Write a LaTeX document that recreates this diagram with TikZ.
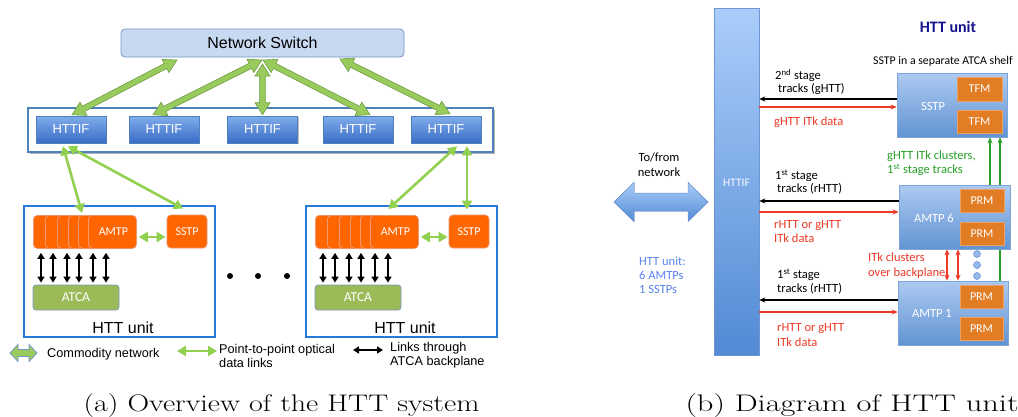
\documentclass[tikz,border=0pt]{standalone}
\usepackage{fontspec}
\newfontfamily\arialf{Liberation Sans}
\newfontfamily\calf{Carlito}
\usetikzlibrary{arrows.meta,calc,shadows}
\pgfdeclarelayer{shelflayer}
\pgfsetlayers{shelflayer,main}

% palette
\definecolor{swfill}{RGB}{198,217,240}
\definecolor{swdraw}{RGB}{120,150,200}
\definecolor{ifborder}{RGB}{79,129,189}
\definecolor{iftop}{RGB}{128,172,236}
\definecolor{ifbot}{RGB}{58,108,198}
\definecolor{comgreen}{RGB}{152,202,92}
\definecolor{comedge}{RGB}{112,158,70}
\definecolor{ptp}{RGB}{146,208,80}
\definecolor{unitblue}{RGB}{40,120,215}
\definecolor{amtporange}{RGB}{255,102,0}
\definecolor{amtpedge}{RGB}{238,150,110}
\definecolor{atcagreen}{RGB}{155,187,89}
\definecolor{atcaedge}{RGB}{130,150,190}
\definecolor{barTop}{RGB}{170,205,250}
\definecolor{barBot}{RGB}{82,138,212}
\definecolor{baredge}{RGB}{110,150,210}
\definecolor{shelfgreen}{RGB}{214,250,212}
\definecolor{shelfedge}{RGB}{140,180,150}
\definecolor{boardtop}{RGB}{172,202,240}
\definecolor{boardbot}{RGB}{98,148,212}
\definecolor{boardedge}{RGB}{125,165,215}
\definecolor{modorange}{RGB}{226,125,38}
\definecolor{modedge}{RGB}{235,160,100}
\definecolor{linkred}{RGB}{236,58,38}
\definecolor{linkgreen}{RGB}{40,160,40}
\definecolor{unitnavy}{RGB}{20,20,140}
\definecolor{noteblue}{RGB}{90,130,235}
\definecolor{dotfill}{RGB}{150,185,235}
\definecolor{dotedge}{RGB}{100,140,210}

\newcommand\sz[2]{\fontsize{#1}{#2}\selectfont}

% double-headed block arrow: style, from, to, shaft half width, head half width, head length
\newcommand\fatarrow[6]{%
  \filldraw[#1] let \p1=(#2), \p2=(#3),
      \n1={atan2(\y2-\y1,\x2-\x1)}, \n2={veclen(\x2-\x1,\y2-\y1)} in
    [shift={(\p1)}, rotate=\n1]
    (0pt,0pt) -- (#6pt,#5pt) -- (#6pt,#4pt) -- (\n2-#6pt,#4pt) -- (\n2-#6pt,#5pt)
    -- (\n2,0pt) -- (\n2-#6pt,-#5pt) -- (\n2-#6pt,-#4pt) -- (#6pt,-#4pt) -- (#6pt,-#5pt) -- cycle;}

\tikzset{
  switchbox/.style={rectangle, rounded corners=4pt, fill=swfill, draw=swdraw, line width=0.8pt,
    font=\arialf\sz{16}{19}, inner sep=0pt},
  ifrow/.style={rectangle, fill=white, draw=ifborder, line width=1.6pt,
    drop shadow={shadow xshift=1.5pt, shadow yshift=-1.5pt, fill=black, opacity=0.3}},
  ifbox/.style={rectangle, top color=iftop, bottom color=ifbot, draw=ifborder, line width=0.5pt,
    minimum width=70pt, minimum height=27pt, inner sep=0pt, text=white, font=\arialf\sz{13}{15},
    drop shadow={shadow xshift=1pt, shadow yshift=-1pt, fill=black, opacity=0.25}},
  fat/.style={fill=comgreen, draw=comedge, line width=0.6pt, line join=miter},
  fatkey/.style={fill=comgreen, draw=swdraw, line width=0.8pt},
  bigarrow/.style={top color=barTop, bottom color=barBot, draw=baredge, line width=0.5pt},
  ptpl/.style={draw=ptp, line width=2.6pt, {Triangle[length=9pt,width=10pt]}-{Triangle[length=9pt,width=10pt]}},
  bkl/.style={draw=black, line width=1.8pt, {Triangle[length=6pt,width=7pt]}-{Triangle[length=6pt,width=7pt]}},
  unitbox/.style={rectangle, fill=white, draw=unitblue, line width=1.8pt, inner sep=0pt},
  amtpbox/.style={rectangle, rounded corners=4pt, fill=amtporange, draw=amtpedge, line width=0.8pt,
    minimum width=48pt, minimum height=33pt, inner sep=0pt, text=white, font=\calf\sz{12}{14}},
  sstpbox/.style={amtpbox, minimum width=40pt},
  atcabox/.style={rectangle, rounded corners=3pt, fill=atcagreen, draw=atcaedge, line width=0.8pt,
    minimum width=86pt, minimum height=25pt, inner sep=0pt, text=white, font=\calf\sz{13.5}{16}},
  dot/.style={circle, fill=black, minimum size=6pt, inner sep=0pt},
  keytext/.style={font=\arialf\sz{12.7}{14}, anchor=base west, inner sep=0pt},
  bar/.style={rectangle, top color=barTop, bottom color=barBot, draw=baredge, line width=0.5pt,
    minimum width=45pt, minimum height=347pt, inner sep=0pt},
  board/.style={rectangle, top color=boardtop, bottom color=boardbot, draw=boardedge, line width=0.6pt,
    inner sep=0pt, drop shadow={shadow xshift=1pt, shadow yshift=-1pt, fill=black, opacity=0.2}},
  boardlbl/.style={font=\calf\sz{12.5}{15}, text=white, inner sep=0pt},
  mod/.style={rectangle, fill=modorange, draw=modedge, line width=0.6pt, minimum width=44pt,
    minimum height=23pt, inner sep=0pt, text=white, font=\calf\sz{12}{14}},
  note/.style={font=\calf\sz{12.5}{15}, anchor=base west, inner sep=0pt},
  blk/.style={draw=black, line width=1.1pt, -{Stealth[length=6pt,width=5pt]}},
  red/.style={draw=linkred, line width=1.1pt, -{Stealth[length=6pt,width=5pt]}},
  grn/.style={draw=linkgreen, line width=1.1pt, -{Stealth[length=6pt,width=5pt]}},
  redboth/.style={draw=linkred, line width=1.1pt, {Stealth[length=6pt,width=5pt]}-{Stealth[length=6pt,width=5pt]}},
  bluedot/.style={circle, fill=dotfill, draw=dotedge, line width=0.5pt, minimum size=7pt, inner sep=0pt},
  caption/.style={font=\sz{24}{28}, anchor=base, inner sep=0pt}
}

% one HTT unit of the overview: name prefix, horizontal offset
\newcommand\httunit[2]{%
\begin{scope}[xshift=#2pt]
  \node[unitbox, minimum width=191pt, minimum height=131pt] (#1box) at (119.5,271.5) {};
  \foreach \k/\bx in {1/33,2/45,3/57,4/68,5/78}
    \node[amtpbox, anchor=north west] (#1a\k) at (\bx,215) {};
  \node[amtpbox, anchor=north west] (#1a6) at (88,215) {\hspace*{2pt}AMTP};
  \node[sstpbox] (#1sstp) at (187,231.5) {SSTP};
  \node[atcabox] (#1atca) at (76,297.5) {ATCA};
  \draw[ptpl, line width=2.4pt] ([xshift=2pt]#1a6.east |- 0,237) -- ([xshift=-1pt]#1sstp.west |- 0,237);
  \foreach \x in {41,53,67,79,93,106}
    \draw[bkl] (#1a6.south -| \x,0) ++(0,4) -- ($(#1atca.north -| \x,0)+(0,-2)$);
  \node[font=\arialf\sz{16}{19}, anchor=base] (#1lbl) at (123,333) {HTT unit};
\end{scope}}

\begin{document}
\begin{tikzpicture}[x=1pt,y=-1pt]
\useasboundingbox (0,0) rectangle (1018,416);
\fill[white] (0,0) rectangle (1018,416);

% ---------------- overview of the system ----------------
\node[switchbox, minimum width=283pt, minimum height=28pt] (sw) at (262.5,43) {Network Switch};
\node[ifrow, minimum width=465pt, minimum height=44pt] (row) at (260.5,130) {};
\foreach \i/\cx in {1/71,2/164,3/262.5,4/358,5/446}
  \node[ifbox] (h\i) at (\cx,129.5) {HTTIF};

\coordinate (s1) at (177,60);
\coordinate (s2) at (262,60);
\coordinate (s3) at (262.5,64);
\coordinate (s4) at (263,60);
\coordinate (s5) at (340,59);
\coordinate (t1) at ([xshift=1pt,yshift=1pt]h1.north);
\coordinate (t2) at ([xshift=-11pt,yshift=1pt]h2.north);
\coordinate (t3) at ([yshift=1pt]h3.north);
\coordinate (t4) at ([xshift=12pt,yshift=1pt]h4.north);
\coordinate (t5) at ([xshift=4pt,yshift=2pt]h5.north);
\fatarrow{fat}{s1}{t1}{2.8}{7.5}{13}
\fatarrow{fat}{s2}{t2}{2.8}{7.5}{13}
\fatarrow{fat}{s3}{t3}{2.8}{7.5}{12}
\fatarrow{fat}{s4}{t4}{2.8}{7.5}{13}
\fatarrow{fat}{s5}{t5}{2.8}{7.5}{13}

\httunit{L}{0}
\httunit{R}{282}

\draw[ptpl] ([xshift=-8pt,yshift=-3pt]h1.south) -- ([xshift=4pt,yshift=2pt]La5.north west);
\draw[ptpl] ([xshift=-3pt,yshift=-3pt]h1.south) -- ([xshift=-4pt,yshift=6pt]Lsstp.north);
\draw[ptpl] ([xshift=11pt,yshift=-3pt]h5.south) -- ([xshift=-6pt,yshift=6pt]Ra6.north);
\draw[ptpl] ([xshift=21pt,yshift=-3pt]h5.south) -- ([xshift=-2pt,yshift=5pt]Rsstp.north);

\node[dot] (d1) at (230,276) {};
\node[dot] (d2) at (258,276) {};
\node[dot] (d3) at (287,276) {};

% key
\coordinate (k1a) at (10,353);
\coordinate (k1b) at (37,353);
\fatarrow{fatkey}{k1a}{k1b}{3.5}{8.5}{8}
\node[keytext] (k1t) at (47,357.5) {Commodity network};
\coordinate (k2a) at (177,351);
\coordinate (k2b) at (217,351);
\draw[ptpl, line width=2.4pt] (k2a) -- (k2b);
\node[keytext] (k2t) at (219,353.5) {Point-to-point optical};
\node[keytext] (k2u) at (219,367.5) {data links};
\coordinate (k3a) at (353,350);
\coordinate (k3b) at (383,350);
\draw[bkl] (k3a) -- (k3b);
\node[keytext] (k3t) at (390,351.5) {Links through};
\node[keytext] (k3u) at (390,365.5) {ATCA backplane};

\node[caption] (capa) at (281.5,411) {\scalebox{1.25}[1]{(a) Overview of the HTT system}};

% ---------------- one HTT unit ----------------
\begin{pgfonlayer}{shelflayer}
  \fill[shelfgreen, draw=shelfedge, line width=0.8pt] (859,42) rectangle (1040,351);
\end{pgfonlayer}
\node[font=\calf\bfseries\sz{16}{19}, text=unitnavy, anchor=base, inner sep=0pt] (unittitle) at (948,32.5) {HTT unit};
\node[note, font=\calf\sz{11.8}{14}] (shelfnote) at (873,64.5) {SSTP in a separate ATCA shelf};

\node[bar] (bar) at (736.5,181.5) {};
\node[font=\calf\sz{11.5}{14}, text=white!90!barTop, inner sep=0pt] (barlbl) at (736.5,183) {HTTIF};

\node[board, minimum width=110pt, minimum height=64pt] (sstp) at (952,105) {};
\node[boardlbl] (sstpT) at (933,106) {SSTP};
\node[mod, minimum width=45pt, minimum height=24pt] (tfm1) at (979.5,89) {TFM};
\node[mod, minimum width=45pt, minimum height=23pt] (tfm2) at (979.5,121.5) {TFM};

\node[board, minimum width=110pt, minimum height=64pt] (amtp1) at (953,313) {};
\node[boardlbl] (amtp1T) at (932,313) {AMTP 1};
\node[mod, minimum width=43pt] (prm11) at (981.5,296.5) {PRM};
\node[mod, minimum width=43pt] (prm12) at (981.5,329) {PRM};

% the link from AMTP 1 runs behind AMTP 6
\draw[grn] (amtp1.north -| 1000,0) -- (sstp.south -| 1000,0);

\node[board, minimum width=111pt, minimum height=64pt] (amtp6) at (954.5,217) {};
\node[boardlbl] (amtp6T) at (934,218) {AMTP 6};
\node[mod] (prm61) at (982,200.5) {PRM};
\node[mod] (prm62) at (982,233.5) {PRM};

\node[bluedot] (b1) at (977,254) {};
\node[bluedot] (b2) at (977,265) {};
\node[bluedot] (b3) at (977,276) {};

% links between the interface and the boards
\draw[blk] (sstp.west |- 0,99) -- (bar.east |- 0,99);
\draw[red] (bar.east |- 0,107) -- (sstp.west |- 0,107);
\draw[blk] (amtp6.west |- 0,201) -- (bar.east |- 0,201);
\draw[red] (bar.east |- 0,212) -- (amtp6.west |- 0,212);
\draw[blk] (amtp1.west |- 0,300) -- (bar.east |- 0,300);
\draw[red] (bar.east |- 0,312) -- (amtp1.west |- 0,312);

\draw[grn] (amtp6.north -| 990,0) -- (sstp.south -| 990,0);
\draw[redboth] (amtp6.south -| 947,0) -- (amtp1.north -| 947,0);
\draw[redboth] (amtp6.south -| 958,0) -- (amtp1.north -| 958,0);

\coordinate (netL) at (614,202);
\coordinate (netR) at (708,202);
\fatarrow{bigarrow}{netL}{netR}{9}{19.5}{20}

% labels
\node[note] (n1) at (775,79.5) {2\textsuperscript{nd} stage};
\node[note] (n2) at (778,92.5) {tracks (gHTT)};
\node[note, text=linkred] (n3) at (774,125.5) {gHTT ITk data};
\node[note, text=linkgreen] (n4) at (887,159.5) {gHTT ITk clusters,};
\node[note, text=linkgreen] (n5) at (887,173.5) {1\textsuperscript{st} stage tracks};
\node[note, anchor=base] (n6) at (659,161.5) {To/from};
\node[note, anchor=base] (n7) at (659,176.5) {network};
\node[note] (n8) at (775,179.5) {1\textsuperscript{st} stage};
\node[note] (n9) at (777,192.5) {tracks (rHTT)};
\node[note, text=linkred] (n10) at (774,228.5) {rHTT or gHTT};
\node[note, text=linkred] (n11) at (774,242.5) {ITk data};
\node[note, text=linkred] (n12) at (868,261.5) {ITk clusters};
\node[note, text=linkred] (n13) at (868,276.5) {over backplane};
\node[note] (n14) at (777,278.5) {1\textsuperscript{st} stage};
\node[note] (n15) at (777,292.5) {tracks (rHTT)};
\node[note, text=linkred] (n16) at (777,331.5) {rHTT or gHTT};
\node[note, text=linkred] (n17) at (777,346.5) {ITk data};
\node[note, text=noteblue] (n18) at (639,265.5) {HTT unit:};
\node[note, text=noteblue] (n19) at (639,279.5) {6 AMTPs};
\node[note, text=noteblue] (n20) at (639,293.5) {1 SSTPs};

\node[caption] (capb) at (852,411) {\scalebox{1.35}[1]{(b) Diagram of HTT unit}};
\end{tikzpicture}
\end{document}
